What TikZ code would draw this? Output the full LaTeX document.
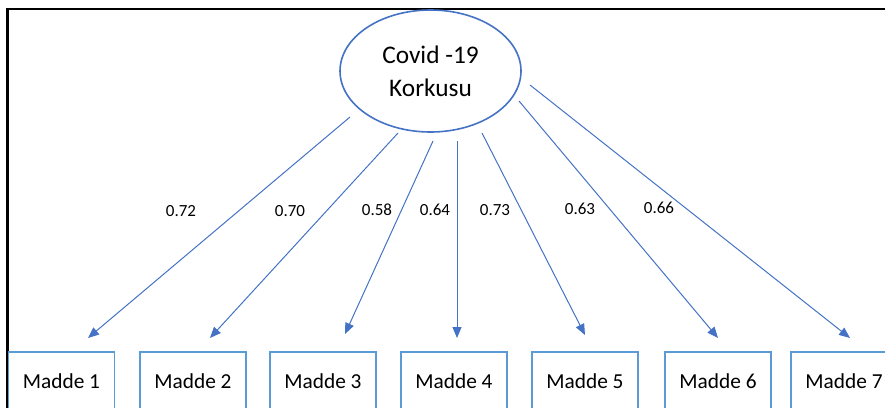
\documentclass[tikz,border=0pt]{standalone}
\usepackage{fontspec}
\setmainfont{Carlito}
\usetikzlibrary{arrows.meta,shapes.geometric}

\definecolor{lineblue}{RGB}{68,114,196}
\definecolor{boxblue}{RGB}{91,155,213}

\tikzset{every picture/.style={line width=0.75pt}}
\tikzset{
  factor/.style={draw=lineblue, line width=1.2pt, ellipse, minimum width=135.75pt, minimum height=91.5pt, inner sep=0pt, align=center, font=\fontsize{19}{25}\selectfont},
  item/.style={draw=boxblue, line width=1.1pt, rectangle, minimum width=79.5pt, minimum height=43.5pt, inner sep=0pt, font=\fontsize{16}{19}\selectfont},
  load/.style={draw=lineblue, line width=0.75pt, -{Triangle[length=8.25pt,width=6.75pt]}},
  weight/.style={inner sep=0.75pt, font=\fontsize{12.75}{15}\selectfont}
}

\begin{document}
\begin{tikzpicture}[x=0.75pt,y=0.75pt,yscale=-1,xscale=1]
\useasboundingbox (0,0) rectangle (885,407);
\clip (0,0) rectangle (885,407);

% frame
\draw [line width=2.2pt] (7.5,420) -- (7.5,9) -- (900,9) ;

% factor
\node [factor] (cov) at (430.5,71) {Covid -19\\Korkusu};

% items
\node [item] (m1) at (61.5,381) {Madde 1};
\node [item] (m2) at (193,381) {Madde 2};
\node [item] (m3) at (323,381) {Madde 3};
\node [item] (m4) at (454,381) {Madde 4};
\node [item] (m5) at (585,381) {Madde 5};
\node [item] (m6) at (718,381) {Madde 6};
\node [item] (m7) at (844,381) {Madde 7};

% arrow ends
\coordinate (s1) at (350,117);
\coordinate (s2) at (398,133);
\coordinate (s3) at (433,141);
\coordinate (s4) at (457,141);
\coordinate (s5) at (482,133);
\coordinate (s6) at (519,101);
\coordinate (s7) at (530,85);
\coordinate (t1) at (88,338);
\coordinate (t2) at (210,338);
\coordinate (t3) at (345,334);
\coordinate (t4) at (457,338);
\coordinate (t5) at (585,335);
\coordinate (t6) at (718,338);
\coordinate (t7) at (850,338);

\foreach \i in {1,...,7}
  \draw [load] (s\i) -- (t\i) ;

% loadings
\node [weight] (w1) at (181,211) {0.72};
\node [weight] (w2) at (290,211) {0.70};
\node [weight] (w3) at (377,210) {0.58};
\node [weight] (w4) at (435,210) {0.64};
\node [weight] (w5) at (495,210) {0.73};
\node [weight] (w6) at (580,209) {0.63};
\node [weight] (w7) at (659,208) {0.66};

\end{tikzpicture}
\end{document}
